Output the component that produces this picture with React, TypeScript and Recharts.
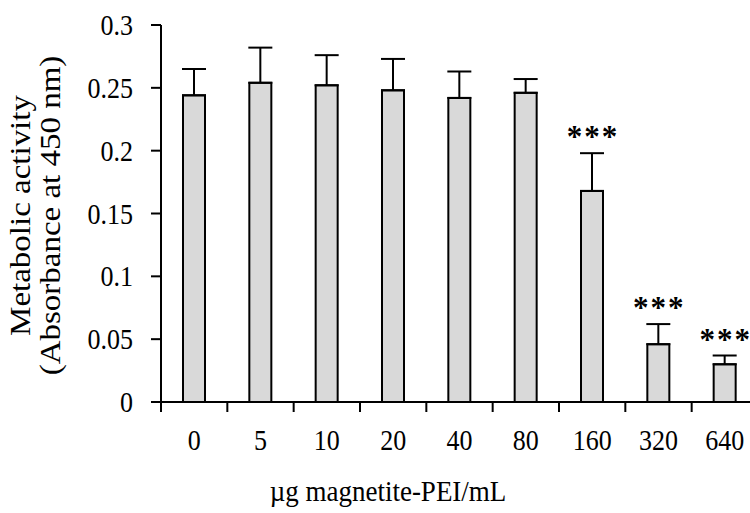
import { BarChart, Bar, XAxis, YAxis, ErrorBar, LabelList } from "recharts";

/* ================= DATA ================= */

const categories = ["0", "5", "10", "20", "40", "80", "160", "320", "640"];
const means = [0.244, 0.254, 0.252, 0.248, 0.242, 0.246, 0.168, 0.046, 0.030];
const sds = [0.021, 0.028, 0.024, 0.025, 0.021, 0.011, 0.030, 0.016, 0.007];
const marks = ["", "", "", "", "", "", "***", "***", "***"];

const yTicks = [0, 0.05, 0.1, 0.15, 0.2, 0.25, 0.3];
const yTickLabels = ["0", "0.05", "0.1", "0.15", "0.2", "0.25", "0.3"];

const data = categories.map((c, i) => ({
  name: c,
  value: means[i],
  err: [0, sds[i]],
  mark: marks[i],
}));

/* ================= LAYOUT ================= */

const FONT = "'Liberation Serif', 'Times New Roman', serif";
const CHART_W = 770;
const CHART_H = 513;
const PLOT_LEFT = 161;
const PLOT_RIGHT = 758;
const PLOT_TOP = 25;
const PLOT_BOTTOM = 402;
const Y_AXIS_W = 100;
const X_AXIS_H = 60;
const HALF_BAND = (PLOT_RIGHT - PLOT_LEFT) / categories.length / 2;
const STRETCH = 1.1; // the source figure is a little taller than wide

// text drawn with a slight vertical stretch, like the original figure
function SText({ x, y, size, anchor = "middle", rotate = false, children, ...rest }: any) {
  const t = rotate
    ? `translate(${x}, ${y}) scale(1, ${STRETCH}) rotate(-90)`
    : `translate(${x}, ${y}) scale(1, ${STRETCH})`;
  return (
    <g transform={t}>
      <text
        x={0}
        y={0}
        textAnchor={anchor}
        fontSize={size}
        fontFamily={FONT}
        fill="#000"
        {...rest}
      >
        {children}
      </text>
    </g>
  );
}

function XTick(props: any) {
  const { x, y, payload, index } = props;
  const last = index === categories.length - 1;
  return (
    <g>
      <line x1={x - HALF_BAND} x2={x - HALF_BAND} y1={y} y2={y + 10} stroke="#000" strokeWidth={2} />
      {last && (
        <line x1={x + HALF_BAND} x2={x + HALF_BAND} y1={y} y2={y + 10} stroke="#000" strokeWidth={2} />
      )}
      <SText x={x} y={y + 48} size={26}>
        {payload.value}
      </SText>
    </g>
  );
}

function YTick(props: any) {
  const { x, y, payload } = props;
  const i = yTicks.indexOf(payload.value);
  return (
    <SText x={x} y={y + 10} size={26} anchor="end">
      {i >= 0 ? yTickLabels[i] : payload.value}
    </SText>
  );
}

function StarLabel(props: any) {
  const { x, y, width, height, value, index } = props;
  if (!value) return null;
  const perUnit = height / means[index];
  const errTop = y - sds[index] * perUnit;
  return (
    <text
      x={x + width / 2}
      y={errTop - 6}
      dx={1}
      textAnchor="middle"
      fontSize={31}
      fontWeight="bold"
      letterSpacing={2}
      fontFamily={FONT}
      fill="#000"
    >
      {value}
    </text>
  );
}

function YLabel() {
  const cy = (PLOT_TOP + PLOT_BOTTOM) / 2 + 2;
  return (
    <g>
      <SText x={30} y={cy} size={30} rotate>
        Metabolic activity
      </SText>
      <SText x={60} y={cy} size={30} rotate>
        (Absorbance at 450 nm)
      </SText>
    </g>
  );
}

function XLabel() {
  return (
    <SText x={388} y={501} size={27}>
      µg magnetite-PEI/mL
    </SText>
  );
}

/* ================= COMPONENT ================= */

export default function App() {
  return (
    <div style={styles.frame}>
      <BarChart
        width={CHART_W}
        height={CHART_H}
        data={data}
        margin={{
          top: PLOT_TOP,
          right: CHART_W - PLOT_RIGHT,
          left: PLOT_LEFT - Y_AXIS_W,
          bottom: CHART_H - PLOT_BOTTOM - X_AXIS_H,
        }}
        barSize={22}
      >
        <XAxis
          dataKey="name"
          height={X_AXIS_H}
          axisLine={{ stroke: "#000", strokeWidth: 2 }}
          tickLine={false}
          tickSize={0}
          tickMargin={0}
          tick={<XTick />}
          interval={0}
          label={{ content: () => <XLabel /> }}
        />
        <YAxis
          width={Y_AXIS_W}
          domain={[0, 0.3]}
          ticks={yTicks}
          axisLine={{ stroke: "#000", strokeWidth: 2 }}
          tickLine={{ stroke: "#000", strokeWidth: 2 }}
          tickSize={10}
          tickMargin={18}
          tick={<YTick />}
          label={{ content: () => <YLabel /> }}
        />
        <Bar dataKey="value" fill="#d9d9d9" stroke="#000" strokeWidth={2} isAnimationActive={false}>
          <ErrorBar dataKey="err" width={12} stroke="#000" strokeWidth={2} direction="y" />
          <LabelList dataKey="mark" content={<StarLabel />} />
        </Bar>
      </BarChart>
    </div>
  );
}

/* ================= STYLES ================= */

const styles: Record<string, React.CSSProperties> = {
  frame: {
    position: "absolute",
    left: 0,
    top: 0,
    width: 750,
    height: 513,
    overflow: "hidden",
    background: "#fff",
  },
};
